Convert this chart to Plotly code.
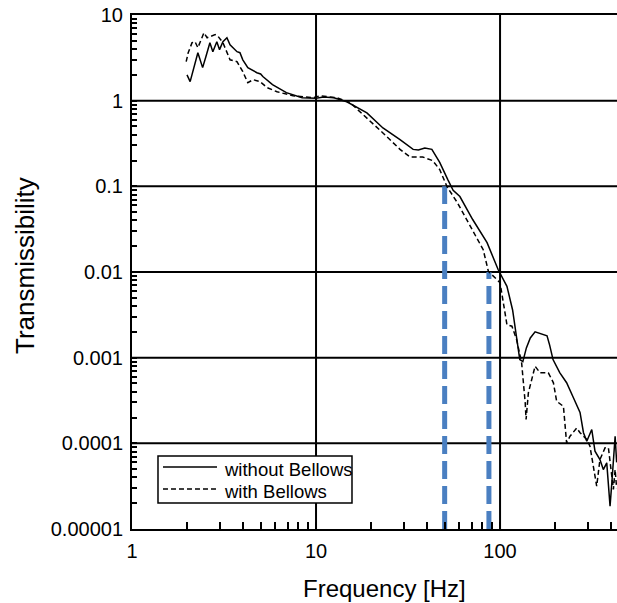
import plotly.graph_objects as go
import numpy as np

# ---- data ----
freq_without = [1.99, 2.07, 2.28, 2.42, 2.52, 2.65, 2.75, 2.89, 2.99, 3.12, 3.28, 3.41, 3.72, 3.86,
                4.0, 4.26, 4.77, 5.0, 5.14, 5.8, 6.9, 8.4, 10.0, 11.0, 12.5, 14.7, 18.9, 23.1, 28.6,
                33.7, 36.0, 39.0, 42.6, 47.0, 52.0, 55.6, 60.5, 71.0, 85.0, 97.6, 109, 117, 128, 133,
                139, 146, 155, 167, 180, 186, 194, 211, 230, 249, 272, 284, 296, 315, 328, 349, 364,
                380, 396, 405, 413, 422, 430]
trans_without = [2.0, 1.67, 3.63, 2.43, 3.26, 4.75, 3.73, 4.88, 3.94, 4.88, 5.43, 4.5, 3.73, 3.63,
                 3.0, 2.43, 2.12, 2.05, 1.91, 1.54, 1.24, 1.08, 1.07, 1.1, 1.08, 0.97, 0.72, 0.48, 0.35,
                 0.27, 0.265, 0.28, 0.27, 0.19, 0.12, 0.09, 0.076, 0.041, 0.022, 0.0107, 0.0068, 0.0036,
                 0.00095, 0.0009, 0.0013, 0.0017, 0.0020, 0.0019, 0.0018, 0.0014, 0.00095, 0.00067,
                 0.00051, 0.00035, 0.00023, 0.000133, 0.000106, 0.000145, 0.0000809, 0.0000647,
                 0.0000494, 0.0000592, 0.0000185, 0.0000346, 0.0000706, 0.000121, 0.00006]

freq_with = [1.97, 2.02, 2.12, 2.2, 2.28, 2.46, 2.56, 2.65, 2.83, 2.94, 3.12, 3.41, 3.72, 4.0, 4.26,
             4.55, 4.96, 5.42, 6.14, 7.5, 9.63, 10.5, 13.0, 15.3, 18.9, 23.1, 28.6, 32.4, 38.0, 43.0,
             47.0, 51.5, 58.5, 71.0, 81.0, 86.4, 100, 109, 116, 123, 131, 137, 138.5, 142.5, 148.6,
             155, 165, 183, 195, 203, 221, 230, 240, 261, 272, 296, 308, 328, 335, 349, 372, 388,
             405, 413, 422, 430]
trans_with = [2.85, 3.63, 4.75, 4.88, 4.15, 6.2, 5.43, 5.58, 5.9, 5.6, 4.75, 3.0, 2.85, 2.18, 1.62,
              1.76, 1.67, 1.42, 1.27, 1.14, 1.08, 1.14, 1.08, 0.95, 0.63, 0.42, 0.27, 0.22, 0.22, 0.2,
              0.157, 0.099, 0.065, 0.031, 0.0182, 0.0102, 0.0075, 0.00243, 0.00233, 0.00163, 0.00087,
              0.000297, 0.00019, 0.000388, 0.000555, 0.000794, 0.000665, 0.000665, 0.000508, 0.00031,
              0.00027, 0.000101, 0.000121, 0.000151, 0.000133, 0.000111, 0.0000925, 0.0000378,
              0.0000316, 0.0000647, 0.0000886, 0.0000886, 0.0000378, 0.0000289, 0.0000494, 0.00003]

marker_freqs = [50, 87]
marker_levels = [0.1, 0.01]

series_names = ["without Bellows", "with Bellows"]

y_major_vals = [1e-5, 1e-4, 1e-3, 1e-2, 1e-1, 1, 10]
y_major_text = ["0.00001", "0.0001", "0.001", "0.01", "0.1", "1", "10"]
x_major_vals = [1, 10, 100]
x_major_text = ["1", "10", "100"]

FONT = "Liberation Sans, Arial, Helvetica, sans-serif"
X_RANGE = [0, np.log10(432)]
Y_RANGE = [-5, 1]

# tick positions: decades get labels, 2..9 multiples get unlabeled tick marks
x_minor = [m * 10 ** d for d in range(0, 3) for m in range(2, 10) if m * 10 ** d <= 432]
y_minor = [m * 10.0 ** d for d in range(-5, 1) for m in range(2, 10)]
x_tickvals = x_major_vals + x_minor
x_ticktext = x_major_text + [""] * len(x_minor)
y_tickvals = y_major_vals + y_minor
y_ticktext = y_major_text + [""] * len(y_minor)

fig = go.Figure()

for f, lvl in zip(marker_freqs, marker_levels):
    fig.add_trace(go.Scatter(x=[f, f], y=[1e-5, lvl], mode="lines",
                             line=dict(color="#4a7fc1", width=5, dash="18px,7px"),
                             showlegend=False, hoverinfo="skip"))

fig.add_trace(go.Scatter(x=freq_without, y=trans_without, mode="lines",
                         name=series_names[0], line=dict(color="black", width=1.5),
                         showlegend=False))
fig.add_trace(go.Scatter(x=freq_with, y=trans_with, mode="lines",
                         name=series_names[1], line=dict(color="black", width=1.5, dash="5px,3px"),
                         showlegend=False))

# ---- decade grid lines ----
shapes = []
for yv in y_major_vals[1:-1]:
    shapes.append(dict(type="line", xref="paper", yref="y", x0=0, x1=1, y0=yv, y1=yv,
                       line=dict(color="black", width=2), layer="below"))
for xv in x_major_vals[1:]:
    shapes.append(dict(type="line", xref="x", yref="paper", x0=xv, x1=xv, y0=0, y1=1,
                       line=dict(color="black", width=2), layer="below"))

# ---- legend (boxed key in paper coordinates) ----
shapes += [
    dict(type="rect", xref="paper", yref="paper", x0=0.0536, x1=0.4536, y0=0.0506, y1=0.142,
         line=dict(color="black", width=1.5), fillcolor="white", layer="above"),
    dict(type="line", xref="paper", yref="paper", x0=0.0639, x1=0.1753, y0=0.1206, y1=0.1206,
         line=dict(color="black", width=1.5), layer="above"),
    dict(type="line", xref="paper", yref="paper", x0=0.0639, x1=0.1753, y0=0.0778, y1=0.0778,
         line=dict(color="black", width=1.5, dash="5px,3px"), layer="above"),
]

fig.update_layout(
    width=617, height=603,
    margin=dict(l=132, r=0, t=15, b=74, autoexpand=False),
    paper_bgcolor="white", plot_bgcolor="white",
    font=dict(family=FONT, color="black", size=20),
    showlegend=False,
    hovermode=False,
    shapes=shapes,
    xaxis=dict(type="log", range=X_RANGE, automargin=False,
               tickmode="array", tickvals=x_tickvals, ticktext=x_ticktext,
               ticks="inside", ticklen=7, tickwidth=1.5, tickcolor="black",
               showgrid=False, showline=True, linecolor="black", linewidth=2, mirror=True,
               zeroline=False, ticklabelstandoff=3, ticklabeloverflow="allow",
               tickfont=dict(size=20)),
    yaxis=dict(type="log", range=Y_RANGE, automargin=False,
               tickmode="array", tickvals=y_tickvals, ticktext=y_ticktext,
               ticks="inside", ticklen=5, tickwidth=1.5, tickcolor="black",
               showgrid=False, showline=True, linecolor="black", linewidth=2, mirror=False,
               zeroline=False, ticklabelstandoff=3, ticklabeloverflow="allow",
               tickfont=dict(size=20)),
    annotations=[
        dict(text="Frequency [Hz]", xref="paper", yref="paper", x=0.5196, y=-0.1148,
             xanchor="center", yanchor="middle", showarrow=False, font=dict(size=24)),
        dict(text="Transmissibility", xref="paper", yref="paper", x=-0.2206, y=0.5117,
             xanchor="center", yanchor="middle", textangle=-90, showarrow=False,
             font=dict(size=26)),
        dict(text=series_names[0], xref="paper", yref="paper", x=0.186, y=0.1148,
             xanchor="left", yanchor="middle", showarrow=False, font=dict(size=18.5)),
        dict(text=series_names[1], xref="paper", yref="paper", x=0.186, y=0.0739,
             xanchor="left", yanchor="middle", showarrow=False, font=dict(size=18.5)),
    ],
)

fig.write_html("out.html",
               config={"displayModeBar": False},
               post_script="document.body.style.margin='0';document.body.style.overflow='hidden';")
